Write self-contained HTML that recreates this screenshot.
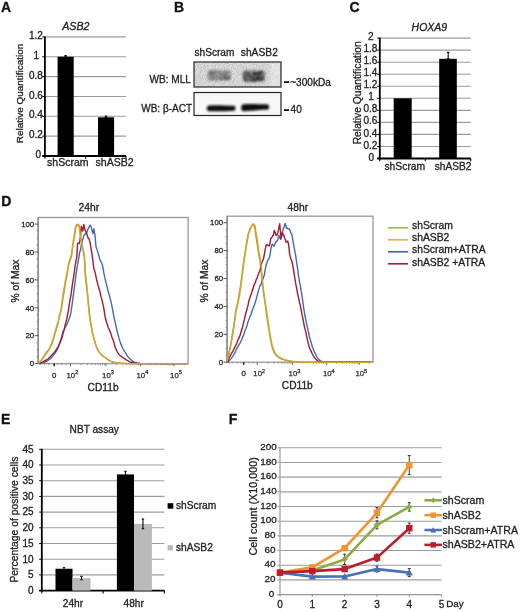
<!DOCTYPE html>
<html><head><meta charset="utf-8"><style>
html,body{margin:0;padding:0;background:#fff;overflow:hidden;}
svg{display:block;filter:blur(0.3px);}
text{font-family:"Liberation Sans",sans-serif;}
</style></head><body>
<svg width="520" height="612" viewBox="0 0 520 612">
<defs>
<filter id="noise" x="0" y="0" width="100%" height="100%">
<feTurbulence type="fractalNoise" baseFrequency="1.1" numOctaves="2" seed="4"/>
<feColorMatrix type="matrix" values="0 0 0 0 0  0 0 0 0 0  0 0 0 0 0  0 0 0 -1.8 1.3" />
</filter>
<filter id="blur1" x="-50%" y="-80%" width="200%" height="260%"><feGaussianBlur stdDeviation="1.2"/></filter>
<filter id="blur2" x="-50%" y="-80%" width="200%" height="260%"><feGaussianBlur stdDeviation="0.95"/></filter>
<filter id="mottle" x="-30%" y="-60%" width="160%" height="220%">
<feTurbulence type="fractalNoise" baseFrequency="0.45" numOctaves="2" seed="11" result="n"/>
<feColorMatrix in="n" type="matrix" values="0 0 0 0 0  0 0 0 0 0  0 0 0 0 0  0 0 0 2.2 -0.35" result="na"/>
<feComposite in="SourceGraphic" in2="na" operator="in" result="m"/>
<feGaussianBlur in="m" stdDeviation="0.9"/>
</filter>
</defs>
<text x="1.00" y="12.30" font-size="14" text-anchor="start" fill="#111" font-weight="bold" stroke="#111" stroke-width="0.3" >A</text>
<text x="174.00" y="12.30" font-size="14" text-anchor="start" fill="#111" font-weight="bold" stroke="#111" stroke-width="0.3" >B</text>
<text x="349.50" y="12.30" font-size="14" text-anchor="start" fill="#111" font-weight="bold" stroke="#111" stroke-width="0.3" >C</text>
<text x="1.30" y="206.00" font-size="14" text-anchor="start" fill="#111" font-weight="bold" stroke="#111" stroke-width="0.3" >D</text>
<text x="1.00" y="423.80" font-size="14" text-anchor="start" fill="#111" font-weight="bold" stroke="#111" stroke-width="0.3" >E</text>
<text x="228.70" y="423.80" font-size="14" text-anchor="start" fill="#111" font-weight="bold" stroke="#111" stroke-width="0.3" >F</text>
<line x1="44.90" y1="136.15" x2="126.00" y2="136.15" stroke="#9c9c9c" stroke-width="1.1" />
<line x1="44.90" y1="116.30" x2="126.00" y2="116.30" stroke="#9c9c9c" stroke-width="1.1" />
<line x1="44.90" y1="96.45" x2="126.00" y2="96.45" stroke="#9c9c9c" stroke-width="1.1" />
<line x1="44.90" y1="76.60" x2="126.00" y2="76.60" stroke="#9c9c9c" stroke-width="1.1" />
<line x1="44.90" y1="56.75" x2="126.00" y2="56.75" stroke="#9c9c9c" stroke-width="1.1" />
<line x1="44.90" y1="36.90" x2="126.00" y2="36.90" stroke="#9c9c9c" stroke-width="1.1" />
<text x="38.30" y="158.10" font-size="10.0" text-anchor="middle" fill="#222" stroke="#222" stroke-width="0.3" >0</text>
<line x1="42.30" y1="156.00" x2="44.90" y2="156.00" stroke="#000" stroke-width="1" />
<text x="42.90" y="138.25" font-size="10.0" text-anchor="end" fill="#222" stroke="#222" stroke-width="0.3" >0.2</text>
<line x1="42.30" y1="136.15" x2="44.90" y2="136.15" stroke="#000" stroke-width="1" />
<text x="42.90" y="118.40" font-size="10.0" text-anchor="end" fill="#222" stroke="#222" stroke-width="0.3" >0.4</text>
<line x1="42.30" y1="116.30" x2="44.90" y2="116.30" stroke="#000" stroke-width="1" />
<text x="42.90" y="98.55" font-size="10.0" text-anchor="end" fill="#222" stroke="#222" stroke-width="0.3" >0.6</text>
<line x1="42.30" y1="96.45" x2="44.90" y2="96.45" stroke="#000" stroke-width="1" />
<text x="42.90" y="78.70" font-size="10.0" text-anchor="end" fill="#222" stroke="#222" stroke-width="0.3" >0.8</text>
<line x1="42.30" y1="76.60" x2="44.90" y2="76.60" stroke="#000" stroke-width="1" />
<text x="36.20" y="58.85" font-size="10.0" text-anchor="middle" fill="#222" stroke="#222" stroke-width="0.3" >1</text>
<line x1="42.30" y1="56.75" x2="44.90" y2="56.75" stroke="#000" stroke-width="1" />
<text x="42.90" y="39.00" font-size="10.0" text-anchor="end" fill="#222" stroke="#222" stroke-width="0.3" >1.2</text>
<line x1="42.30" y1="36.90" x2="44.90" y2="36.90" stroke="#000" stroke-width="1" />
<line x1="44.90" y1="36.40" x2="44.90" y2="156.80" stroke="#000" stroke-width="1.8" />
<line x1="42.30" y1="156.00" x2="126.00" y2="156.00" stroke="#000" stroke-width="1.8" />
<line x1="44.90" y1="156.00" x2="44.90" y2="158.80" stroke="#000" stroke-width="1.1" />
<line x1="85.60" y1="156.00" x2="85.60" y2="158.80" stroke="#000" stroke-width="1.1" />
<line x1="126.00" y1="156.00" x2="126.00" y2="158.80" stroke="#000" stroke-width="1.1" />
<rect x="57.60" y="56.75" width="16.10" height="99.25" fill="#000" />
<rect x="98.00" y="117.29" width="16.10" height="38.71" fill="#000" />
<line x1="65.60" y1="55.56" x2="65.60" y2="56.75" stroke="#000" stroke-width="1.05" />
<line x1="64.40" y1="55.56" x2="66.80" y2="55.56" stroke="#000" stroke-width="1.05" />
<line x1="64.40" y1="56.75" x2="66.80" y2="56.75" stroke="#000" stroke-width="1.05" />
<line x1="106.00" y1="116.10" x2="106.00" y2="117.29" stroke="#000" stroke-width="1.05" />
<line x1="104.80" y1="116.10" x2="107.20" y2="116.10" stroke="#000" stroke-width="1.05" />
<line x1="104.80" y1="117.29" x2="107.20" y2="117.29" stroke="#000" stroke-width="1.05" />
<text x="47.00" y="166.00" font-size="10.55" text-anchor="start" fill="#222" stroke="#222" stroke-width="0.3" >shScram</text>
<text x="95.50" y="166.00" font-size="10.55" text-anchor="start" fill="#222" stroke="#222" stroke-width="0.3" >shASB2</text>
<text x="62.20" y="29.90" font-size="10.7" text-anchor="start" fill="#222" font-style="italic" stroke="#222" stroke-width="0.3" >ASB2</text>
<text x="0.00" y="0.00" font-size="9.95" text-anchor="middle" fill="#222" stroke="#222" stroke-width="0.3" transform="translate(23.2,93.5) rotate(-90)">Relative Quantification</text>
<text x="194.50" y="55.80" font-size="10.1" text-anchor="start" fill="#222" stroke="#222" stroke-width="0.3" >shScram</text>
<text x="240.80" y="55.80" font-size="10.25" text-anchor="start" fill="#222" stroke="#222" stroke-width="0.3" >shASB2</text>
<text x="190.90" y="83.00" font-size="10.1" text-anchor="end" fill="#222" stroke="#222" stroke-width="0.3" >WB: MLL</text>
<text x="192.00" y="111.60" font-size="10.0" text-anchor="end" fill="#222" stroke="#222" stroke-width="0.3" >WB: &#946;-ACT</text>
<rect x="194.00" y="62.00" width="87.00" height="25.00" fill="#e6e6e6" />
<rect x="194" y="62" width="87" height="25" fill="#000" filter="url(#noise)" opacity="0.2"/>
<rect x="270" y="62" width="11" height="25" fill="#fff" opacity="0.35" filter="url(#blur1)"/>
<g filter="url(#mottle)"><rect x="207.5" y="70.5" width="23.5" height="10" rx="4" fill="#6e6e6e"/><rect x="209" y="70" width="8" height="5" rx="2" fill="#505050"/><rect x="219" y="75" width="11" height="5" rx="2" fill="#4a4a4a"/></g>
<g filter="url(#mottle)"><rect x="242.5" y="70.5" width="22.5" height="11.5" rx="4" fill="#3e3e3e"/><rect x="252" y="71" width="12" height="10" rx="3" fill="#1a1a1a"/><rect x="244" y="75" width="9" height="6" rx="2" fill="#2a2a2a"/></g>
<rect x="194" y="62" width="87" height="25" fill="none" stroke="#262626" stroke-width="1.2"/>
<rect x="194.00" y="92.50" width="87.00" height="23.00" fill="#f8f8f8" />
<g filter="url(#blur2)"><path d="M208.5,105.6 C214,104.8 226,105.6 234.5,105.8 C235.8,107.2 235.8,109.8 234.5,110.8 C226,111.2 214,111.6 208.5,111.2 C206.2,110.2 206.2,106.6 208.5,105.6 Z" fill="#111"/><path d="M243,104.2 C250,103.8 260,104.2 268,104.4 C269.5,105.6 269.5,108.4 268,109.6 C260,110.2 250,110.8 243,111.2 C240.5,110.2 240.5,105.2 243,104.2 Z" fill="#0a0a0a"/></g>
<rect x="194" y="92.5" width="87" height="23" fill="none" stroke="#262626" stroke-width="1.2"/>
<rect x="284.00" y="81.20" width="5.10" height="1.80" fill="#111" />
<text x="290.20" y="85.60" font-size="10.1" text-anchor="start" fill="#222" stroke="#222" stroke-width="0.3" >~300kDa</text>
<rect x="284.00" y="109.20" width="5.10" height="1.80" fill="#111" />
<text x="290.60" y="112.90" font-size="10.1" text-anchor="start" fill="#222" stroke="#222" stroke-width="0.3" >40</text>
<line x1="379.80" y1="146.46" x2="470.80" y2="146.46" stroke="#9c9c9c" stroke-width="1.1" />
<line x1="379.80" y1="134.42" x2="470.80" y2="134.42" stroke="#9c9c9c" stroke-width="1.1" />
<line x1="379.80" y1="122.38" x2="470.80" y2="122.38" stroke="#9c9c9c" stroke-width="1.1" />
<line x1="379.80" y1="110.34" x2="470.80" y2="110.34" stroke="#9c9c9c" stroke-width="1.1" />
<line x1="379.80" y1="98.30" x2="470.80" y2="98.30" stroke="#9c9c9c" stroke-width="1.1" />
<line x1="379.80" y1="86.26" x2="470.80" y2="86.26" stroke="#9c9c9c" stroke-width="1.1" />
<line x1="379.80" y1="74.22" x2="470.80" y2="74.22" stroke="#9c9c9c" stroke-width="1.1" />
<line x1="379.80" y1="62.18" x2="470.80" y2="62.18" stroke="#9c9c9c" stroke-width="1.1" />
<line x1="379.80" y1="50.14" x2="470.80" y2="50.14" stroke="#9c9c9c" stroke-width="1.1" />
<line x1="379.80" y1="38.10" x2="470.80" y2="38.10" stroke="#9c9c9c" stroke-width="1.1" />
<text x="371.20" y="160.60" font-size="10.0" text-anchor="middle" fill="#222" stroke="#222" stroke-width="0.3" >0</text>
<line x1="377.20" y1="158.50" x2="379.80" y2="158.50" stroke="#000" stroke-width="1" />
<text x="377.40" y="148.56" font-size="10.0" text-anchor="end" fill="#222" stroke="#222" stroke-width="0.3" >0.2</text>
<line x1="377.20" y1="146.46" x2="379.80" y2="146.46" stroke="#000" stroke-width="1" />
<text x="377.40" y="136.52" font-size="10.0" text-anchor="end" fill="#222" stroke="#222" stroke-width="0.3" >0.4</text>
<line x1="377.20" y1="134.42" x2="379.80" y2="134.42" stroke="#000" stroke-width="1" />
<text x="377.40" y="124.48" font-size="10.0" text-anchor="end" fill="#222" stroke="#222" stroke-width="0.3" >0.6</text>
<line x1="377.20" y1="122.38" x2="379.80" y2="122.38" stroke="#000" stroke-width="1" />
<text x="377.40" y="112.44" font-size="10.0" text-anchor="end" fill="#222" stroke="#222" stroke-width="0.3" >0.8</text>
<line x1="377.20" y1="110.34" x2="379.80" y2="110.34" stroke="#000" stroke-width="1" />
<text x="371.00" y="100.40" font-size="10.0" text-anchor="middle" fill="#222" stroke="#222" stroke-width="0.3" >1</text>
<line x1="377.20" y1="98.30" x2="379.80" y2="98.30" stroke="#000" stroke-width="1" />
<text x="377.40" y="88.36" font-size="10.0" text-anchor="end" fill="#222" stroke="#222" stroke-width="0.3" >1.2</text>
<line x1="377.20" y1="86.26" x2="379.80" y2="86.26" stroke="#000" stroke-width="1" />
<text x="377.40" y="76.32" font-size="10.0" text-anchor="end" fill="#222" stroke="#222" stroke-width="0.3" >1.4</text>
<line x1="377.20" y1="74.22" x2="379.80" y2="74.22" stroke="#000" stroke-width="1" />
<text x="377.40" y="64.28" font-size="10.0" text-anchor="end" fill="#222" stroke="#222" stroke-width="0.3" >1.6</text>
<line x1="377.20" y1="62.18" x2="379.80" y2="62.18" stroke="#000" stroke-width="1" />
<text x="377.40" y="52.24" font-size="10.0" text-anchor="end" fill="#222" stroke="#222" stroke-width="0.3" >1.8</text>
<line x1="377.20" y1="50.14" x2="379.80" y2="50.14" stroke="#000" stroke-width="1" />
<text x="370.90" y="40.20" font-size="10.0" text-anchor="middle" fill="#222" stroke="#222" stroke-width="0.3" >2</text>
<line x1="377.20" y1="38.10" x2="379.80" y2="38.10" stroke="#000" stroke-width="1" />
<line x1="379.80" y1="37.60" x2="379.80" y2="159.30" stroke="#000" stroke-width="1.8" />
<line x1="377.20" y1="158.50" x2="470.80" y2="158.50" stroke="#000" stroke-width="1.8" />
<line x1="379.80" y1="158.50" x2="379.80" y2="161.30" stroke="#000" stroke-width="1.1" />
<line x1="425.30" y1="158.50" x2="425.30" y2="161.30" stroke="#000" stroke-width="1.1" />
<line x1="470.80" y1="158.50" x2="470.80" y2="161.30" stroke="#000" stroke-width="1.1" />
<rect x="393.70" y="98.30" width="18.00" height="60.20" fill="#000" />
<rect x="439.20" y="58.81" width="17.60" height="99.69" fill="#000" />
<line x1="448.20" y1="52.31" x2="448.20" y2="58.81" stroke="#000" stroke-width="1.05" />
<line x1="446.90" y1="52.31" x2="449.50" y2="52.31" stroke="#000" stroke-width="1.05" />
<line x1="446.90" y1="58.81" x2="449.50" y2="58.81" stroke="#000" stroke-width="1.05" />
<text x="384.40" y="169.60" font-size="10.35" text-anchor="start" fill="#222" stroke="#222" stroke-width="0.3" >shScram</text>
<text x="434.80" y="169.60" font-size="10.1" text-anchor="start" fill="#222" stroke="#222" stroke-width="0.3" >shASB2</text>
<text x="411.60" y="31.30" font-size="10.45" text-anchor="start" fill="#222" font-style="italic" stroke="#222" stroke-width="0.3" >HOXA9</text>
<text x="0.00" y="0.00" font-size="10.3" text-anchor="middle" fill="#222" stroke="#222" stroke-width="0.3" transform="translate(360.5,92.8) rotate(-90)">Relative Quantification</text>
<rect x="38.2" y="217.5" width="149.89999999999998" height="146.10000000000002" fill="none" stroke="#999" stroke-width="1.3"/>
<line x1="38.20" y1="217.50" x2="38.20" y2="363.60" stroke="#888" stroke-width="1.3" />
<line x1="34.60" y1="363.60" x2="38.20" y2="363.60" stroke="#555" stroke-width="1" />
<text x="34.20" y="366.30" font-size="7.8" text-anchor="end" fill="#2a2a2a" stroke="#2a2a2a" stroke-width="0.3" >0</text>
<line x1="34.60" y1="335.70" x2="38.20" y2="335.70" stroke="#555" stroke-width="1" />
<text x="34.20" y="338.40" font-size="7.8" text-anchor="end" fill="#2a2a2a" stroke="#2a2a2a" stroke-width="0.3" >20</text>
<line x1="34.60" y1="307.80" x2="38.20" y2="307.80" stroke="#555" stroke-width="1" />
<text x="34.20" y="310.50" font-size="7.8" text-anchor="end" fill="#2a2a2a" stroke="#2a2a2a" stroke-width="0.3" >40</text>
<line x1="34.60" y1="279.90" x2="38.20" y2="279.90" stroke="#555" stroke-width="1" />
<text x="34.20" y="282.60" font-size="7.8" text-anchor="end" fill="#2a2a2a" stroke="#2a2a2a" stroke-width="0.3" >60</text>
<line x1="34.60" y1="252.00" x2="38.20" y2="252.00" stroke="#555" stroke-width="1" />
<text x="34.20" y="254.70" font-size="7.8" text-anchor="end" fill="#2a2a2a" stroke="#2a2a2a" stroke-width="0.3" >80</text>
<line x1="34.60" y1="224.10" x2="38.20" y2="224.10" stroke="#555" stroke-width="1" />
<text x="34.20" y="226.80" font-size="7.8" text-anchor="end" fill="#2a2a2a" stroke="#2a2a2a" stroke-width="0.3" >100</text>
<line x1="36.60" y1="356.62" x2="38.20" y2="356.62" stroke="#888" stroke-width="0.9" />
<line x1="36.60" y1="349.65" x2="38.20" y2="349.65" stroke="#888" stroke-width="0.9" />
<line x1="36.60" y1="342.68" x2="38.20" y2="342.68" stroke="#888" stroke-width="0.9" />
<line x1="36.60" y1="328.73" x2="38.20" y2="328.73" stroke="#888" stroke-width="0.9" />
<line x1="36.60" y1="321.75" x2="38.20" y2="321.75" stroke="#888" stroke-width="0.9" />
<line x1="36.60" y1="314.78" x2="38.20" y2="314.78" stroke="#888" stroke-width="0.9" />
<line x1="36.60" y1="300.83" x2="38.20" y2="300.83" stroke="#888" stroke-width="0.9" />
<line x1="36.60" y1="293.85" x2="38.20" y2="293.85" stroke="#888" stroke-width="0.9" />
<line x1="36.60" y1="286.88" x2="38.20" y2="286.88" stroke="#888" stroke-width="0.9" />
<line x1="36.60" y1="272.93" x2="38.20" y2="272.93" stroke="#888" stroke-width="0.9" />
<line x1="36.60" y1="265.95" x2="38.20" y2="265.95" stroke="#888" stroke-width="0.9" />
<line x1="36.60" y1="258.98" x2="38.20" y2="258.98" stroke="#888" stroke-width="0.9" />
<line x1="36.60" y1="245.03" x2="38.20" y2="245.03" stroke="#888" stroke-width="0.9" />
<line x1="36.60" y1="238.05" x2="38.20" y2="238.05" stroke="#888" stroke-width="0.9" />
<line x1="36.60" y1="231.08" x2="38.20" y2="231.08" stroke="#888" stroke-width="0.9" />
<line x1="54.20" y1="363.60" x2="54.20" y2="366.20" stroke="#222" stroke-width="1.6" />
<text x="54.20" y="377.80" font-size="7.8" text-anchor="middle" fill="#2a2a2a" stroke="#2a2a2a" stroke-width="0.3" >0</text>
<line x1="70.40" y1="363.60" x2="70.40" y2="366.20" stroke="#666" stroke-width="1" />
<text x="66.50" y="377.70" font-size="7.8" fill="#2a2a2a" stroke="#2a2a2a" stroke-width="0.25">10<tspan dy="-3.3" font-size="5.6">2</tspan></text>
<line x1="81.12" y1="363.60" x2="81.12" y2="365.30" stroke="#888" stroke-width="0.8" />
<line x1="87.39" y1="363.60" x2="87.39" y2="365.30" stroke="#888" stroke-width="0.8" />
<line x1="91.83" y1="363.60" x2="91.83" y2="365.30" stroke="#888" stroke-width="0.8" />
<line x1="95.28" y1="363.60" x2="95.28" y2="365.30" stroke="#888" stroke-width="0.8" />
<line x1="98.10" y1="363.60" x2="98.10" y2="365.30" stroke="#888" stroke-width="0.8" />
<line x1="100.49" y1="363.60" x2="100.49" y2="365.30" stroke="#888" stroke-width="0.8" />
<line x1="102.55" y1="363.60" x2="102.55" y2="365.30" stroke="#888" stroke-width="0.8" />
<line x1="104.37" y1="363.60" x2="104.37" y2="365.30" stroke="#888" stroke-width="0.8" />
<line x1="106.00" y1="363.60" x2="106.00" y2="366.20" stroke="#666" stroke-width="1" />
<text x="102.10" y="377.70" font-size="7.8" fill="#2a2a2a" stroke="#2a2a2a" stroke-width="0.25">10<tspan dy="-3.3" font-size="5.6">3</tspan></text>
<line x1="116.36" y1="363.60" x2="116.36" y2="365.30" stroke="#888" stroke-width="0.8" />
<line x1="122.41" y1="363.60" x2="122.41" y2="365.30" stroke="#888" stroke-width="0.8" />
<line x1="126.71" y1="363.60" x2="126.71" y2="365.30" stroke="#888" stroke-width="0.8" />
<line x1="130.04" y1="363.60" x2="130.04" y2="365.30" stroke="#888" stroke-width="0.8" />
<line x1="132.77" y1="363.60" x2="132.77" y2="365.30" stroke="#888" stroke-width="0.8" />
<line x1="135.07" y1="363.60" x2="135.07" y2="365.30" stroke="#888" stroke-width="0.8" />
<line x1="137.07" y1="363.60" x2="137.07" y2="365.30" stroke="#888" stroke-width="0.8" />
<line x1="138.83" y1="363.60" x2="138.83" y2="365.30" stroke="#888" stroke-width="0.8" />
<line x1="140.40" y1="363.60" x2="140.40" y2="366.20" stroke="#666" stroke-width="1" />
<text x="136.50" y="377.70" font-size="7.8" fill="#2a2a2a" stroke="#2a2a2a" stroke-width="0.25">10<tspan dy="-3.3" font-size="5.6">4</tspan></text>
<line x1="150.51" y1="363.60" x2="150.51" y2="365.30" stroke="#888" stroke-width="0.8" />
<line x1="156.43" y1="363.60" x2="156.43" y2="365.30" stroke="#888" stroke-width="0.8" />
<line x1="160.63" y1="363.60" x2="160.63" y2="365.30" stroke="#888" stroke-width="0.8" />
<line x1="163.89" y1="363.60" x2="163.89" y2="365.30" stroke="#888" stroke-width="0.8" />
<line x1="166.55" y1="363.60" x2="166.55" y2="365.30" stroke="#888" stroke-width="0.8" />
<line x1="168.80" y1="363.60" x2="168.80" y2="365.30" stroke="#888" stroke-width="0.8" />
<line x1="170.74" y1="363.60" x2="170.74" y2="365.30" stroke="#888" stroke-width="0.8" />
<line x1="172.46" y1="363.60" x2="172.46" y2="365.30" stroke="#888" stroke-width="0.8" />
<line x1="174.00" y1="363.60" x2="174.00" y2="366.20" stroke="#666" stroke-width="1" />
<text x="170.10" y="377.70" font-size="7.8" fill="#2a2a2a" stroke="#2a2a2a" stroke-width="0.25">10<tspan dy="-3.3" font-size="5.6">5</tspan></text>
<line x1="40.20" y1="363.60" x2="40.20" y2="365.20" stroke="#888" stroke-width="0.8" />
<line x1="44.51" y1="363.60" x2="44.51" y2="365.20" stroke="#888" stroke-width="0.8" />
<line x1="48.83" y1="363.60" x2="48.83" y2="365.20" stroke="#888" stroke-width="0.8" />
<line x1="57.46" y1="363.60" x2="57.46" y2="365.20" stroke="#888" stroke-width="0.8" />
<line x1="61.77" y1="363.60" x2="61.77" y2="365.20" stroke="#888" stroke-width="0.8" />
<line x1="66.09" y1="363.60" x2="66.09" y2="365.20" stroke="#888" stroke-width="0.8" />
<line x1="184.11" y1="363.60" x2="184.11" y2="365.30" stroke="#888" stroke-width="0.8" />
<text x="87.60" y="391.40" font-size="10.2" text-anchor="start" fill="#222" stroke="#222" stroke-width="0.3" >CD11b</text>
<text x="78.60" y="210.70" font-size="10.3" text-anchor="start" fill="#222" stroke="#222" stroke-width="0.3" >24hr</text>
<text x="0.00" y="0.00" font-size="10.3" text-anchor="middle" fill="#222" stroke="#222" stroke-width="0.3" transform="translate(19.2,281) rotate(-90)">% of Max</text>
<path d="M38.9,363.6 L39.8,362.5 L40.7,361.4 L41.6,360.0 L42.5,358.9 L43.4,357.7 L44.3,356.3 L45.0,355.3 L46.1,353.8 L47.0,352.6 L47.9,351.2 L48.8,350.0 L49.7,348.3 L50.6,346.6 L51.5,344.8 L51.8,344.3 L52.4,342.9 L53.3,340.0 L54.2,336.7 L55.1,333.4 L56.0,330.2 L56.4,328.8 L56.9,327.4 L57.8,324.5 L58.7,320.0 L59.6,316.2 L60.5,313.2 L61.4,309.3 L62.3,303.3 L63.2,296.8 L64.1,292.1 L65.0,285.9 L65.9,280.5 L66.2,279.5 L66.8,276.7 L67.7,271.1 L68.6,265.6 L69.4,262.1 L70.4,259.4 L71.3,257.7 L72.2,251.2 L73.0,245.0 L74.0,239.1 L74.6,235.9 L74.9,233.7 L75.8,228.0 L76.1,226.8 L76.7,225.0 L77.2,224.8 L77.6,225.6 L78.5,225.3 L78.8,224.7 L79.4,227.0 L79.9,229.8 L80.3,232.8 L81.1,238.2 L82.1,244.2 L83.0,248.8 L83.4,250.4 L83.9,252.5 L84.6,257.5 L85.4,272.0 L85.7,275.2 L86.6,283.4 L87.4,291.3 L88.4,301.8 L89.3,311.6 L90.2,319.4 L91.1,324.4 L92.0,329.4 L92.9,334.1 L93.8,337.3 L94.1,338.2 L94.7,340.5 L95.6,343.7 L96.5,346.6 L97.4,348.8 L98.3,350.5 L98.9,351.8 L99.2,352.1 L100.1,353.4 L101.0,354.4 L101.9,354.9 L102.8,355.6 L103.7,356.6 L104.6,357.4 L105.4,357.8 L106.4,358.5 L107.3,359.3 L108.2,359.9 L109.1,360.6 L110.0,361.0 L110.9,361.4 L111.8,361.7 L112.7,362.1 L113.6,362.2 L114.5,362.4 L115.4,362.7 L116.3,362.8 L117.2,363.0 L118.1,363.1 L118.4,363.1 L119.0,363.2 L119.9,363.2 L120.8,363.3 L121.7,363.4 L122.6,363.4 L123.5,363.4 L124.4,363.5 L125.3,363.5 L126.2,363.5 L127.1,363.6 L128.0,363.6 L128.9,363.6 L129.8,363.6 L130.4,363.6 L130.7,363.6 L131.6,363.6 L132.5,363.6 L133.4,363.6 L134.3,363.6 L135.2,363.6 L136.1,363.6 L137.0,363.6 L137.9,363.6 L138.8,363.6 L139.7,363.6 L140.6,363.6 L141.5,363.6 L142.4,363.6 L143.3,363.6 L144.2,363.6 L145.1,363.6 L146.0,363.6 L146.9,363.6 L147.8,363.6 L148.7,363.6 L149.6,363.6 L150.5,363.6 L151.4,363.6 L152.3,363.6 L153.2,363.6 L154.1,363.6 L155.0,363.6 L155.9,363.6 L156.8,363.6 L157.7,363.6 L158.6,363.6 L159.5,363.6 L160.4,363.6 L161.3,363.6 L162.2,363.6 L163.1,363.6 L164.0,363.6 L164.9,363.6 L165.8,363.6 L166.7,363.6 L167.6,363.6 L168.5,363.6 L169.4,363.6 L170.3,363.6 L171.2,363.6 L172.1,363.6 L173.0,363.6 L173.9,363.6 L174.8,363.6 L175.7,363.6 L176.6,363.6 L177.5,363.6 L178.4,363.6 L179.3,363.6 L180.2,363.6 L181.1,363.6 L182.0,363.6 L182.9,363.6 L183.8,363.6 L184.7,363.6 L185.6,363.6 L186.5,363.6 L187.4,363.6 L188.3,363.6" fill="none" stroke="#8fb442" stroke-width="1.4" stroke-linejoin="round"/>
<path d="M39.0,363.6 L39.9,363.5 L40.8,363.3 L41.7,363.0 L42.6,362.9 L43.5,362.7 L44.4,362.2 L45.0,362.0 L45.3,361.9 L46.2,361.4 L47.1,361.0 L48.0,360.4 L48.9,359.7 L49.8,358.9 L50.7,358.2 L51.6,357.4 L52.0,357.0 L52.5,356.4 L53.4,355.4 L54.3,354.0 L55.2,352.9 L56.1,351.5 L57.0,349.8 L57.9,348.1 L58.8,345.6 L59.7,343.5 L60.6,341.4 L61.5,337.5 L62.4,333.8 L63.3,331.0 L64.0,330.0 L65.1,327.6 L66.0,326.0 L66.9,324.3 L67.8,322.2 L68.7,320.0 L69.6,317.4 L70.5,314.8 L71.4,309.5 L72.3,302.8 L73.2,296.1 L74.0,290.2 L75.0,282.9 L75.9,275.4 L76.8,269.3 L77.7,264.4 L78.0,262.0 L78.6,259.2 L79.5,253.1 L80.4,250.3 L80.7,249.0 L81.3,244.9 L82.2,240.9 L83.1,238.7 L83.8,235.8 L84.9,234.5 L85.7,233.1 L86.7,232.8 L87.2,231.0 L87.6,229.6 L88.4,228.8 L89.4,226.1 L89.9,225.3 L90.3,225.3 L91.1,226.6 L92.1,230.8 L93.0,233.9 L93.9,228.6 L94.2,230.7 L94.8,234.1 L95.3,238.2 L95.7,243.7 L96.1,247.1 L96.6,248.4 L97.5,251.1 L98.4,254.0 L99.2,257.0 L100.2,260.4 L101.1,262.1 L101.4,262.1 L102.0,263.9 L102.9,267.3 L103.8,272.7 L104.7,277.2 L105.6,280.8 L106.0,282.9 L106.5,284.4 L107.4,288.1 L108.3,292.1 L109.2,294.4 L110.1,298.5 L110.6,300.0 L111.0,301.7 L111.9,305.8 L112.8,310.6 L113.7,315.6 L114.4,319.0 L115.5,323.7 L116.4,327.9 L117.3,331.8 L118.2,335.1 L119.0,338.4 L120.0,341.4 L120.9,343.9 L121.8,345.9 L122.7,348.3 L123.6,349.7 L124.0,350.0 L124.5,351.4 L125.4,352.6 L126.3,354.3 L127.2,355.6 L128.1,356.9 L128.8,357.6 L129.9,358.8 L130.8,359.6 L131.7,360.2 L132.6,361.1 L133.5,361.7 L134.4,362.1 L135.3,362.4 L135.6,362.5 L136.2,362.6 L137.1,362.9 L138.0,363.2 L138.9,363.3 L139.8,363.4 L140.7,363.5 L141.6,363.6 L142.0,363.6 L142.5,363.6 L143.4,363.6 L144.3,363.6 L145.2,363.6 L146.1,363.6 L147.0,363.6 L147.9,363.6 L148.8,363.6 L149.7,363.6 L150.6,363.6 L151.5,363.6 L152.4,363.6 L153.3,363.6 L154.2,363.6 L155.1,363.6 L156.0,363.6 L156.9,363.6 L157.8,363.6 L158.7,363.6 L159.6,363.6 L160.5,363.6 L161.4,363.6 L162.3,363.6 L163.2,363.6 L164.1,363.6 L165.0,363.6 L165.9,363.6 L166.8,363.6 L167.7,363.6 L168.6,363.6 L169.5,363.6 L170.4,363.6 L171.3,363.6 L172.2,363.6 L173.1,363.6 L174.0,363.6 L174.9,363.6 L175.8,363.6 L176.7,363.6 L177.6,363.6 L178.5,363.6 L179.4,363.6 L180.3,363.6 L181.2,363.6 L182.1,363.6 L183.0,363.6 L183.9,363.6 L184.8,363.6 L185.7,363.6 L186.6,363.6 L187.5,363.6 L188.0,363.6" fill="none" stroke="#4668ac" stroke-width="1.4" stroke-linejoin="round"/>
<path d="M39.0,363.6 L39.9,363.2 L40.8,362.9 L41.7,362.5 L42.6,362.0 L43.5,361.6 L44.4,360.9 L45.3,360.4 L46.2,359.9 L47.1,359.8 L48.0,359.0 L48.9,357.9 L49.8,357.1 L50.7,356.2 L51.6,355.2 L52.5,354.4 L53.4,353.6 L54.3,352.4 L55.0,351.5 L56.1,350.0 L57.0,348.4 L57.9,347.2 L58.8,345.4 L59.7,343.0 L60.6,340.8 L61.0,340.0 L61.5,339.4 L62.4,336.1 L63.3,332.4 L64.2,329.5 L64.5,328.0 L65.1,325.3 L66.0,322.2 L66.9,318.3 L67.7,314.0 L68.7,309.1 L69.6,302.1 L70.5,297.7 L71.4,292.0 L72.3,285.0 L73.2,279.4 L74.1,273.7 L75.0,266.8 L75.8,261.8 L76.8,257.1 L77.6,243.4 L78.6,242.9 L79.5,243.6 L80.4,237.0 L80.7,233.6 L81.3,226.2 L82.2,228.3 L82.6,231.0 L83.1,229.3 L83.8,224.5 L84.9,229.4 L85.8,231.6 L86.5,233.0 L87.6,236.4 L88.0,238.1 L88.5,237.9 L89.4,240.1 L90.3,243.5 L91.1,248.8 L92.1,255.2 L93.0,261.5 L93.5,266.0 L93.9,269.1 L94.8,271.3 L95.7,275.1 L96.6,279.7 L97.5,282.8 L98.0,285.2 L98.4,286.3 L99.3,289.7 L100.2,292.5 L101.1,296.9 L102.0,300.1 L102.9,304.1 L103.8,308.2 L104.7,314.4 L105.6,319.0 L106.5,322.0 L107.4,325.1 L108.3,327.5 L109.2,329.5 L110.1,331.6 L111.0,333.9 L111.9,337.2 L112.5,338.4 L112.8,338.9 L113.7,342.0 L114.6,345.1 L115.5,348.1 L116.4,350.0 L117.3,351.9 L118.2,353.1 L119.1,354.6 L120.0,355.6 L120.9,356.2 L121.8,356.8 L122.7,357.5 L123.0,357.7 L123.6,358.2 L124.5,358.6 L125.4,359.2 L126.3,359.8 L127.2,360.4 L128.1,360.8 L129.0,361.5 L129.9,361.9 L130.8,362.2 L131.7,362.1 L132.6,362.4 L133.5,362.6 L134.4,362.9 L135.3,363.0 L136.2,363.2 L137.1,363.4 L138.0,363.5 L138.9,363.5 L139.8,363.6 L140.7,363.6 L141.6,363.6 L142.5,363.6 L143.4,363.6 L144.3,363.6 L145.2,363.6 L146.1,363.6 L147.0,363.6 L147.9,363.6 L148.8,363.6 L149.7,363.6 L150.6,363.6 L151.5,363.6 L152.4,363.6 L153.3,363.6 L154.2,363.6 L155.1,363.6 L156.0,363.6 L156.9,363.6 L157.8,363.6 L158.7,363.6 L159.6,363.6 L160.5,363.6 L161.4,363.6 L162.3,363.6 L163.2,363.6 L164.1,363.6 L165.0,363.6 L165.9,363.6 L166.8,363.6 L167.7,363.6 L168.6,363.6 L169.5,363.6 L170.4,363.6 L171.3,363.6 L172.2,363.6 L173.1,363.6 L174.0,363.6 L174.9,363.6 L175.8,363.6 L176.7,363.6 L177.6,363.6 L178.5,363.6 L179.4,363.6 L180.3,363.6 L181.2,363.6 L182.1,363.6 L183.0,363.6 L183.9,363.6 L184.8,363.6 L185.7,363.6 L186.6,363.6 L187.5,363.6 L188.0,363.6" fill="none" stroke="#9e1c30" stroke-width="1.4" stroke-linejoin="round"/>
<path d="M38.5,363.6 L39.4,362.4 L40.3,361.3 L41.2,360.1 L42.1,358.5 L43.0,357.3 L43.9,355.9 L44.6,355.0 L45.7,353.1 L46.6,352.0 L47.5,350.9 L48.4,349.9 L49.3,348.3 L50.2,346.6 L51.1,344.4 L51.4,344.1 L52.0,342.3 L52.9,339.8 L53.8,336.7 L54.7,333.0 L55.6,329.6 L56.0,328.4 L56.5,326.7 L57.4,323.7 L58.3,321.0 L59.2,316.7 L60.1,313.0 L61.0,308.9 L61.9,303.2 L62.8,295.5 L63.7,290.1 L64.6,285.6 L65.5,279.9 L65.8,279.0 L66.4,275.9 L67.3,270.8 L68.2,266.2 L69.0,261.9 L70.0,258.8 L70.9,256.9 L71.8,252.0 L72.6,245.1 L73.6,238.9 L74.2,235.6 L74.5,233.0 L75.4,227.0 L75.7,226.4 L76.3,224.9 L76.8,224.8 L77.2,224.8 L78.1,224.1 L78.4,224.5 L79.0,226.0 L79.5,229.4 L79.9,232.0 L80.7,238.1 L81.7,243.1 L82.6,248.7 L83.0,250.3 L83.5,252.7 L84.2,257.3 L85.0,271.8 L85.3,276.1 L86.2,284.3 L87.0,291.0 L88.0,301.8 L88.9,311.0 L89.8,319.1 L90.7,324.5 L91.6,328.7 L92.5,333.8 L93.4,337.2 L93.7,337.9 L94.3,340.5 L95.2,343.4 L96.1,346.3 L97.0,348.5 L97.9,350.4 L98.5,351.4 L98.8,351.4 L99.7,352.7 L100.6,353.9 L101.5,355.0 L102.4,356.0 L103.3,356.3 L104.2,357.0 L105.0,357.5 L106.0,358.2 L106.9,358.7 L107.8,359.3 L108.7,360.0 L109.6,360.5 L110.5,361.1 L111.4,361.4 L112.3,361.8 L113.2,362.0 L114.1,362.2 L115.0,362.4 L115.9,362.6 L116.8,362.7 L117.7,362.8 L118.0,362.8 L118.6,362.9 L119.5,363.0 L120.4,363.1 L121.3,363.2 L122.2,363.2 L123.1,363.3 L124.0,363.3 L124.9,363.4 L125.8,363.5 L126.7,363.5 L127.6,363.6 L128.5,363.6 L129.4,363.6 L130.0,363.6 L130.3,363.6 L131.2,363.6 L132.1,363.6 L133.0,363.6 L133.9,363.6 L134.8,363.6 L135.7,363.6 L136.6,363.6 L137.5,363.6 L138.4,363.6 L139.3,363.6 L140.2,363.6 L141.1,363.6 L142.0,363.6 L142.9,363.6 L143.8,363.6 L144.7,363.6 L145.6,363.6 L146.5,363.6 L147.4,363.6 L148.3,363.6 L149.2,363.6 L150.1,363.6 L151.0,363.6 L151.9,363.6 L152.8,363.6 L153.7,363.6 L154.6,363.6 L155.5,363.6 L156.4,363.6 L157.3,363.6 L158.2,363.6 L159.1,363.6 L160.0,363.6 L160.9,363.6 L161.8,363.6 L162.7,363.6 L163.6,363.6 L164.5,363.6 L165.4,363.6 L166.3,363.6 L167.2,363.6 L168.1,363.6 L169.0,363.6 L169.9,363.6 L170.8,363.6 L171.7,363.6 L172.6,363.6 L173.5,363.6 L174.4,363.6 L175.3,363.6 L176.2,363.6 L177.1,363.6 L178.0,363.6 L178.9,363.6 L179.8,363.6 L180.7,363.6 L181.6,363.6 L182.5,363.6 L183.4,363.6 L184.3,363.6 L185.2,363.6 L186.1,363.6 L187.0,363.6 L187.9,363.6" fill="none" stroke="#d8a134" stroke-width="1.4" stroke-linejoin="round"/>
<rect x="227.1" y="216.2" width="145.9" height="146.0" fill="none" stroke="#999" stroke-width="1.3"/>
<line x1="227.10" y1="216.20" x2="227.10" y2="362.20" stroke="#888" stroke-width="1.3" />
<line x1="223.50" y1="362.20" x2="227.10" y2="362.20" stroke="#555" stroke-width="1" />
<text x="223.10" y="364.90" font-size="7.8" text-anchor="end" fill="#2a2a2a" stroke="#2a2a2a" stroke-width="0.3" >0</text>
<line x1="223.50" y1="334.30" x2="227.10" y2="334.30" stroke="#555" stroke-width="1" />
<text x="223.10" y="337.00" font-size="7.8" text-anchor="end" fill="#2a2a2a" stroke="#2a2a2a" stroke-width="0.3" >20</text>
<line x1="223.50" y1="306.40" x2="227.10" y2="306.40" stroke="#555" stroke-width="1" />
<text x="223.10" y="309.10" font-size="7.8" text-anchor="end" fill="#2a2a2a" stroke="#2a2a2a" stroke-width="0.3" >40</text>
<line x1="223.50" y1="278.50" x2="227.10" y2="278.50" stroke="#555" stroke-width="1" />
<text x="223.10" y="281.20" font-size="7.8" text-anchor="end" fill="#2a2a2a" stroke="#2a2a2a" stroke-width="0.3" >60</text>
<line x1="223.50" y1="250.60" x2="227.10" y2="250.60" stroke="#555" stroke-width="1" />
<text x="223.10" y="253.30" font-size="7.8" text-anchor="end" fill="#2a2a2a" stroke="#2a2a2a" stroke-width="0.3" >80</text>
<line x1="223.50" y1="222.70" x2="227.10" y2="222.70" stroke="#555" stroke-width="1" />
<text x="223.10" y="225.40" font-size="7.8" text-anchor="end" fill="#2a2a2a" stroke="#2a2a2a" stroke-width="0.3" >100</text>
<line x1="225.50" y1="355.22" x2="227.10" y2="355.22" stroke="#888" stroke-width="0.9" />
<line x1="225.50" y1="348.25" x2="227.10" y2="348.25" stroke="#888" stroke-width="0.9" />
<line x1="225.50" y1="341.27" x2="227.10" y2="341.27" stroke="#888" stroke-width="0.9" />
<line x1="225.50" y1="327.32" x2="227.10" y2="327.32" stroke="#888" stroke-width="0.9" />
<line x1="225.50" y1="320.35" x2="227.10" y2="320.35" stroke="#888" stroke-width="0.9" />
<line x1="225.50" y1="313.38" x2="227.10" y2="313.38" stroke="#888" stroke-width="0.9" />
<line x1="225.50" y1="299.43" x2="227.10" y2="299.43" stroke="#888" stroke-width="0.9" />
<line x1="225.50" y1="292.45" x2="227.10" y2="292.45" stroke="#888" stroke-width="0.9" />
<line x1="225.50" y1="285.48" x2="227.10" y2="285.48" stroke="#888" stroke-width="0.9" />
<line x1="225.50" y1="271.52" x2="227.10" y2="271.52" stroke="#888" stroke-width="0.9" />
<line x1="225.50" y1="264.55" x2="227.10" y2="264.55" stroke="#888" stroke-width="0.9" />
<line x1="225.50" y1="257.57" x2="227.10" y2="257.57" stroke="#888" stroke-width="0.9" />
<line x1="225.50" y1="243.62" x2="227.10" y2="243.62" stroke="#888" stroke-width="0.9" />
<line x1="225.50" y1="236.65" x2="227.10" y2="236.65" stroke="#888" stroke-width="0.9" />
<line x1="225.50" y1="229.67" x2="227.10" y2="229.67" stroke="#888" stroke-width="0.9" />
<line x1="243.70" y1="362.20" x2="243.70" y2="364.80" stroke="#222" stroke-width="1.6" />
<text x="243.70" y="376.40" font-size="7.8" text-anchor="middle" fill="#2a2a2a" stroke="#2a2a2a" stroke-width="0.3" >0</text>
<line x1="257.20" y1="362.20" x2="257.20" y2="364.80" stroke="#666" stroke-width="1" />
<text x="253.30" y="376.30" font-size="7.8" fill="#2a2a2a" stroke="#2a2a2a" stroke-width="0.25">10<tspan dy="-3.3" font-size="5.6">2</tspan></text>
<line x1="267.83" y1="362.20" x2="267.83" y2="363.90" stroke="#888" stroke-width="0.8" />
<line x1="274.04" y1="362.20" x2="274.04" y2="363.90" stroke="#888" stroke-width="0.8" />
<line x1="278.45" y1="362.20" x2="278.45" y2="363.90" stroke="#888" stroke-width="0.8" />
<line x1="281.87" y1="362.20" x2="281.87" y2="363.90" stroke="#888" stroke-width="0.8" />
<line x1="284.67" y1="362.20" x2="284.67" y2="363.90" stroke="#888" stroke-width="0.8" />
<line x1="287.03" y1="362.20" x2="287.03" y2="363.90" stroke="#888" stroke-width="0.8" />
<line x1="289.08" y1="362.20" x2="289.08" y2="363.90" stroke="#888" stroke-width="0.8" />
<line x1="290.88" y1="362.20" x2="290.88" y2="363.90" stroke="#888" stroke-width="0.8" />
<line x1="292.50" y1="362.20" x2="292.50" y2="364.80" stroke="#666" stroke-width="1" />
<text x="288.60" y="376.30" font-size="7.8" fill="#2a2a2a" stroke="#2a2a2a" stroke-width="0.25">10<tspan dy="-3.3" font-size="5.6">3</tspan></text>
<line x1="302.83" y1="362.20" x2="302.83" y2="363.90" stroke="#888" stroke-width="0.8" />
<line x1="308.87" y1="362.20" x2="308.87" y2="363.90" stroke="#888" stroke-width="0.8" />
<line x1="313.15" y1="362.20" x2="313.15" y2="363.90" stroke="#888" stroke-width="0.8" />
<line x1="316.47" y1="362.20" x2="316.47" y2="363.90" stroke="#888" stroke-width="0.8" />
<line x1="319.19" y1="362.20" x2="319.19" y2="363.90" stroke="#888" stroke-width="0.8" />
<line x1="321.49" y1="362.20" x2="321.49" y2="363.90" stroke="#888" stroke-width="0.8" />
<line x1="323.48" y1="362.20" x2="323.48" y2="363.90" stroke="#888" stroke-width="0.8" />
<line x1="325.23" y1="362.20" x2="325.23" y2="363.90" stroke="#888" stroke-width="0.8" />
<line x1="326.80" y1="362.20" x2="326.80" y2="364.80" stroke="#666" stroke-width="1" />
<text x="322.90" y="376.30" font-size="7.8" fill="#2a2a2a" stroke="#2a2a2a" stroke-width="0.25">10<tspan dy="-3.3" font-size="5.6">4</tspan></text>
<line x1="336.58" y1="362.20" x2="336.58" y2="363.90" stroke="#888" stroke-width="0.8" />
<line x1="342.31" y1="362.20" x2="342.31" y2="363.90" stroke="#888" stroke-width="0.8" />
<line x1="346.37" y1="362.20" x2="346.37" y2="363.90" stroke="#888" stroke-width="0.8" />
<line x1="349.52" y1="362.20" x2="349.52" y2="363.90" stroke="#888" stroke-width="0.8" />
<line x1="352.09" y1="362.20" x2="352.09" y2="363.90" stroke="#888" stroke-width="0.8" />
<line x1="354.27" y1="362.20" x2="354.27" y2="363.90" stroke="#888" stroke-width="0.8" />
<line x1="356.15" y1="362.20" x2="356.15" y2="363.90" stroke="#888" stroke-width="0.8" />
<line x1="357.81" y1="362.20" x2="357.81" y2="363.90" stroke="#888" stroke-width="0.8" />
<line x1="359.30" y1="362.20" x2="359.30" y2="364.80" stroke="#666" stroke-width="1" />
<text x="355.40" y="376.30" font-size="7.8" fill="#2a2a2a" stroke="#2a2a2a" stroke-width="0.25">10<tspan dy="-3.3" font-size="5.6">5</tspan></text>
<line x1="229.10" y1="362.20" x2="229.10" y2="363.80" stroke="#888" stroke-width="0.8" />
<line x1="233.11" y1="362.20" x2="233.11" y2="363.80" stroke="#888" stroke-width="0.8" />
<line x1="237.13" y1="362.20" x2="237.13" y2="363.80" stroke="#888" stroke-width="0.8" />
<line x1="241.14" y1="362.20" x2="241.14" y2="363.80" stroke="#888" stroke-width="0.8" />
<line x1="249.17" y1="362.20" x2="249.17" y2="363.80" stroke="#888" stroke-width="0.8" />
<line x1="253.19" y1="362.20" x2="253.19" y2="363.80" stroke="#888" stroke-width="0.8" />
<line x1="369.08" y1="362.20" x2="369.08" y2="363.90" stroke="#888" stroke-width="0.8" />
<text x="281.80" y="388.70" font-size="10.2" text-anchor="start" fill="#222" stroke="#222" stroke-width="0.3" >CD11b</text>
<text x="287.60" y="210.70" font-size="10.3" text-anchor="start" fill="#222" stroke="#222" stroke-width="0.3" >48hr</text>
<text x="0.00" y="0.00" font-size="10.3" text-anchor="middle" fill="#222" stroke="#222" stroke-width="0.3" transform="translate(207.8,281) rotate(-90)">% of Max</text>
<path d="M226.7,361.9 L227.6,358.3 L228.5,354.5 L229.4,350.6 L229.9,348.2 L230.3,346.2 L231.2,341.0 L232.1,335.5 L233.0,330.3 L233.9,324.7 L234.8,317.7 L235.7,310.6 L236.0,309.3 L236.6,307.1 L237.5,303.6 L238.0,300.8 L238.4,298.4 L239.3,293.2 L240.2,287.5 L241.1,281.1 L242.0,273.7 L242.9,267.0 L243.5,262.4 L243.8,260.0 L244.7,254.4 L245.6,249.3 L246.5,243.2 L247.4,237.7 L248.3,233.4 L249.2,230.9 L250.1,228.2 L251.0,227.3 L251.9,225.7 L252.8,224.3 L253.1,224.2 L253.7,224.1 L254.5,225.7 L255.5,233.2 L256.4,239.5 L257.3,245.2 L258.2,251.5 L259.1,256.8 L260.0,260.7 L260.9,269.6 L261.8,279.0 L262.7,287.0 L263.5,293.4 L264.5,299.7 L265.4,306.2 L265.8,309.4 L266.3,313.2 L267.2,318.9 L268.1,325.3 L268.7,328.9 L269.0,330.4 L269.9,335.7 L270.8,341.3 L271.7,345.6 L272.5,348.2 L273.5,351.1 L274.4,352.9 L275.3,354.5 L276.2,355.5 L276.5,355.8 L277.1,356.5 L278.0,357.0 L278.9,357.6 L279.8,358.2 L280.7,358.7 L281.6,359.0 L282.5,359.3 L283.4,359.7 L284.1,359.9 L285.2,360.2 L286.1,360.5 L287.0,360.7 L287.9,360.9 L288.8,361.1 L289.7,361.4 L290.6,361.6 L291.5,361.7 L292.4,361.8 L293.3,361.9 L294.2,361.9 L295.1,361.9 L296.0,362.0 L296.9,362.0 L297.8,362.1 L298.7,362.1 L299.6,362.1 L300.5,362.2 L301.4,362.2 L302.3,362.2 L303.2,362.2 L304.1,362.2 L304.5,362.2 L305.0,362.2 L305.9,362.2 L306.8,362.2 L307.7,362.2 L308.6,362.2 L309.5,362.2 L310.4,362.2 L311.3,362.2 L312.2,362.2 L313.1,362.2 L314.0,362.2 L314.9,362.2 L315.8,362.2 L316.7,362.2 L317.6,362.2 L318.5,362.2 L319.4,362.2 L320.3,362.2 L321.2,362.2 L322.1,362.2 L323.0,362.2 L323.9,362.2 L324.8,362.2 L325.7,362.2 L326.6,362.2 L327.5,362.2 L328.4,362.2 L329.3,362.2 L330.2,362.2 L331.1,362.2 L332.0,362.2 L332.9,362.2 L333.8,362.2 L334.7,362.2 L335.6,362.2 L336.5,362.2 L337.4,362.2 L338.3,362.2 L339.2,362.2 L340.1,362.2 L341.0,362.2 L341.9,362.2 L342.8,362.2 L343.7,362.2 L344.6,362.2 L345.5,362.2 L346.4,362.2 L347.3,362.2 L348.2,362.2 L349.1,362.2 L350.0,362.2 L350.9,362.2 L351.8,362.2 L352.7,362.2 L353.6,362.2 L354.5,362.2 L355.4,362.2 L356.3,362.2 L357.2,362.2 L358.1,362.2 L359.0,362.2 L359.9,362.2 L360.8,362.2 L361.7,362.2 L362.6,362.2 L363.5,362.2 L364.4,362.2 L365.3,362.2 L366.2,362.2 L367.1,362.2 L368.0,362.2 L368.9,362.2 L369.8,362.2 L370.7,362.2 L371.5,362.2" fill="none" stroke="#8fb442" stroke-width="1.4" stroke-linejoin="round"/>
<path d="M227.5,362.2 L228.4,361.6 L229.3,360.4 L229.8,360.0 L230.2,359.6 L231.1,358.6 L232.0,357.3 L232.9,356.1 L233.8,354.5 L234.7,352.9 L235.6,351.3 L236.5,349.3 L237.4,347.5 L238.3,346.2 L239.2,344.3 L240.1,342.8 L241.0,341.2 L241.9,339.3 L242.8,336.7 L243.7,334.8 L244.6,332.0 L245.5,329.3 L246.0,328.5 L246.4,327.6 L247.3,324.3 L248.2,321.2 L249.1,319.4 L250.0,316.6 L250.9,314.6 L251.8,312.1 L252.7,309.3 L253.6,306.9 L254.5,304.8 L255.4,301.9 L255.8,300.6 L256.3,298.9 L257.2,295.3 L258.1,291.7 L259.0,289.0 L259.6,287.0 L259.9,285.7 L260.8,285.0 L261.7,282.5 L262.6,279.9 L263.5,277.5 L264.4,274.7 L265.3,268.9 L266.2,264.8 L267.1,262.2 L268.0,259.8 L268.9,258.5 L269.5,257.4 L269.8,256.1 L270.7,250.1 L271.0,248.6 L271.6,245.1 L272.5,244.1 L273.4,245.8 L274.2,246.0 L275.2,243.3 L275.7,242.0 L276.1,241.8 L277.0,241.1 L277.9,239.3 L278.8,235.2 L279.7,237.7 L280.5,239.3 L281.5,235.9 L282.4,232.0 L283.3,228.9 L284.2,227.0 L285.1,223.5 L286.0,225.9 L286.5,228.0 L286.9,227.7 L287.6,228.8 L288.7,228.8 L289.6,229.8 L290.5,231.6 L291.1,233.6 L291.4,233.5 L292.3,236.6 L292.6,239.0 L293.2,242.2 L294.1,247.1 L295.0,252.2 L295.7,255.7 L296.8,263.5 L297.7,269.3 L298.0,271.7 L298.6,276.0 L299.5,281.8 L300.4,285.9 L301.0,290.1 L301.3,291.9 L302.2,297.2 L303.1,303.7 L303.8,309.0 L304.9,315.0 L305.8,319.8 L306.7,324.3 L307.6,328.3 L308.5,332.1 L309.4,336.8 L310.3,339.6 L311.2,342.7 L312.1,346.2 L312.5,347.6 L313.0,348.2 L313.9,350.7 L314.8,352.9 L315.7,354.3 L316.6,356.3 L317.3,357.4 L318.4,358.9 L319.3,359.7 L320.2,360.5 L321.1,361.1 L322.0,361.5 L322.9,361.7 L323.8,361.8 L324.7,362.0 L325.6,362.1 L326.5,362.2 L327.4,362.2 L328.0,362.2 L328.3,362.2 L329.2,362.2 L330.1,362.2 L331.0,362.2 L331.9,362.2 L332.8,362.2 L333.7,362.2 L334.6,362.2 L335.5,362.2 L336.4,362.2 L337.3,362.2 L338.2,362.2 L339.1,362.2 L340.0,362.2 L340.9,362.2 L341.8,362.2 L342.7,362.2 L343.6,362.2 L344.5,362.2 L345.4,362.2 L346.3,362.2 L347.2,362.2 L348.1,362.2 L349.0,362.2 L349.9,362.2 L350.8,362.2 L351.7,362.2 L352.6,362.2 L353.5,362.2 L354.4,362.2 L355.3,362.2 L356.2,362.2 L357.1,362.2 L358.0,362.2 L358.9,362.2 L359.8,362.2 L360.7,362.2 L361.6,362.2 L362.5,362.2 L363.4,362.2 L364.3,362.2 L365.2,362.2 L366.1,362.2 L367.0,362.2 L367.9,362.2 L368.8,362.2 L369.7,362.2 L370.6,362.2 L371.5,362.2 L372.0,362.2" fill="none" stroke="#4668ac" stroke-width="1.4" stroke-linejoin="round"/>
<path d="M227.5,362.2 L228.4,360.0 L228.8,359.0 L229.3,357.8 L230.2,355.9 L231.1,354.2 L232.0,352.7 L232.9,351.4 L233.8,349.4 L234.6,347.7 L235.6,345.6 L236.5,343.7 L237.4,341.6 L238.3,339.1 L239.2,337.1 L240.1,335.2 L241.0,332.0 L241.9,329.3 L242.3,328.3 L242.8,325.8 L243.7,322.1 L244.6,318.7 L245.5,314.5 L246.4,311.2 L247.3,308.0 L248.2,304.4 L249.1,299.7 L250.0,297.8 L250.9,295.0 L251.8,292.5 L252.7,289.0 L253.0,288.8 L253.6,286.5 L254.5,283.9 L255.4,282.5 L255.8,281.0 L256.3,279.4 L257.2,277.9 L258.1,274.9 L259.0,272.4 L259.9,270.2 L260.6,268.0 L261.7,263.1 L262.5,260.9 L263.5,259.2 L263.8,257.1 L264.4,254.0 L265.3,248.9 L266.2,244.9 L267.1,244.7 L268.0,245.7 L268.9,245.3 L269.2,246.0 L269.8,244.3 L270.7,238.8 L271.6,237.7 L272.5,236.4 L273.0,235.4 L273.4,235.4 L274.3,230.5 L275.2,232.4 L276.1,235.6 L277.0,235.0 L277.9,232.7 L278.8,228.2 L279.7,223.7 L280.6,233.6 L281.1,238.8 L281.5,237.0 L282.4,232.5 L283.3,234.7 L284.2,236.0 L284.5,237.8 L285.1,239.0 L286.0,242.0 L286.8,242.0 L287.8,241.1 L288.7,245.2 L289.2,250.2 L289.6,254.1 L290.3,257.2 L291.4,260.0 L292.3,263.0 L293.2,267.8 L294.1,273.7 L295.0,279.1 L295.9,284.4 L296.8,289.0 L297.7,294.1 L298.0,295.1 L298.6,298.0 L299.5,302.3 L300.4,306.1 L301.0,309.1 L301.3,310.8 L302.2,315.5 L303.1,319.5 L304.0,324.5 L304.8,328.4 L305.8,331.9 L306.7,336.6 L307.6,340.5 L308.5,344.2 L309.4,347.8 L310.3,349.6 L311.2,351.4 L312.1,353.5 L313.0,355.3 L313.9,356.6 L314.4,357.3 L314.8,357.9 L315.7,359.0 L316.6,359.8 L317.5,360.7 L318.4,361.3 L319.0,361.5 L319.3,361.5 L320.2,361.7 L321.1,361.9 L322.0,362.0 L322.9,362.1 L323.8,362.2 L324.7,362.2 L325.0,362.2 L325.6,362.2 L326.5,362.2 L327.4,362.2 L328.3,362.2 L329.2,362.2 L330.1,362.2 L331.0,362.2 L331.9,362.2 L332.8,362.2 L333.7,362.2 L334.6,362.2 L335.5,362.2 L336.4,362.2 L337.3,362.2 L338.2,362.2 L339.1,362.2 L340.0,362.2 L340.9,362.2 L341.8,362.2 L342.7,362.2 L343.6,362.2 L344.5,362.2 L345.4,362.2 L346.3,362.2 L347.2,362.2 L348.1,362.2 L349.0,362.2 L349.9,362.2 L350.8,362.2 L351.7,362.2 L352.6,362.2 L353.5,362.2 L354.4,362.2 L355.3,362.2 L356.2,362.2 L357.1,362.2 L358.0,362.2 L358.9,362.2 L359.8,362.2 L360.7,362.2 L361.6,362.2 L362.5,362.2 L363.4,362.2 L364.3,362.2 L365.2,362.2 L366.1,362.2 L367.0,362.2 L367.9,362.2 L368.8,362.2 L369.7,362.2 L370.6,362.2 L371.5,362.2 L372.0,362.2" fill="none" stroke="#9e1c30" stroke-width="1.4" stroke-linejoin="round"/>
<path d="M227.2,361.5 L228.1,357.8 L229.0,354.0 L229.9,349.9 L230.4,347.6 L230.8,345.4 L231.7,340.4 L232.6,335.5 L233.5,330.2 L234.4,324.3 L235.3,317.4 L236.2,310.8 L236.5,309.1 L237.1,307.1 L238.0,302.8 L238.5,300.5 L238.9,298.6 L239.8,294.0 L240.7,287.6 L241.6,280.8 L242.5,273.9 L243.4,266.7 L244.0,261.8 L244.3,259.7 L245.2,253.9 L246.1,248.0 L247.0,243.0 L247.9,238.1 L248.8,232.6 L249.7,231.3 L250.6,228.7 L251.5,226.6 L252.4,224.5 L253.3,225.0 L253.6,224.0 L254.2,225.2 L255.0,225.8 L256.0,233.0 L256.9,237.6 L257.8,243.9 L258.7,251.1 L259.6,255.5 L260.5,260.2 L261.4,268.4 L262.3,278.8 L263.2,286.8 L264.0,293.1 L265.0,300.8 L265.9,306.1 L266.3,308.9 L266.8,312.0 L267.7,318.6 L268.6,324.4 L269.2,328.4 L269.5,330.7 L270.4,335.9 L271.3,340.8 L272.2,345.6 L273.0,347.8 L274.0,350.4 L274.9,352.3 L275.8,353.8 L276.7,355.2 L277.0,355.4 L277.6,356.1 L278.5,356.7 L279.4,357.1 L280.3,357.7 L281.2,358.2 L282.1,358.7 L283.0,359.1 L283.9,359.3 L284.6,359.5 L285.7,360.0 L286.6,360.1 L287.5,360.4 L288.4,360.7 L289.3,360.8 L290.2,360.9 L291.1,361.0 L292.0,361.3 L292.9,361.5 L293.8,361.6 L294.7,361.6 L295.6,361.7 L296.5,361.8 L297.4,361.8 L298.3,361.9 L299.2,362.0 L300.1,362.0 L301.0,362.1 L301.9,362.1 L302.8,362.1 L303.7,362.2 L304.6,362.2 L305.0,362.2 L305.5,362.2 L306.4,362.2 L307.3,362.2 L308.2,362.2 L309.1,362.2 L310.0,362.2 L310.9,362.2 L311.8,362.2 L312.7,362.2 L313.6,362.2 L314.5,362.2 L315.4,362.2 L316.3,362.2 L317.2,362.2 L318.1,362.2 L319.0,362.2 L319.9,362.2 L320.8,362.2 L321.7,362.2 L322.6,362.2 L323.5,362.2 L324.4,362.2 L325.3,362.2 L326.2,362.2 L327.1,362.2 L328.0,362.2 L328.9,362.2 L329.8,362.2 L330.7,362.2 L331.6,362.2 L332.5,362.2 L333.4,362.2 L334.3,362.2 L335.2,362.2 L336.1,362.2 L337.0,362.2 L337.9,362.2 L338.8,362.2 L339.7,362.2 L340.6,362.2 L341.5,362.2 L342.4,362.2 L343.3,362.2 L344.2,362.2 L345.1,362.2 L346.0,362.2 L346.9,362.2 L347.8,362.2 L348.7,362.2 L349.6,362.2 L350.5,362.2 L351.4,362.2 L352.3,362.2 L353.2,362.2 L354.1,362.2 L355.0,362.2 L355.9,362.2 L356.8,362.2 L357.7,362.2 L358.6,362.2 L359.5,362.2 L360.4,362.2 L361.3,362.2 L362.2,362.2 L363.1,362.2 L364.0,362.2 L364.9,362.2 L365.8,362.2 L366.7,362.2 L367.6,362.2 L368.5,362.2 L369.4,362.2 L370.3,362.2 L371.2,362.2 L372.0,362.2" fill="none" stroke="#d8a134" stroke-width="1.4" stroke-linejoin="round"/>
<line x1="388.00" y1="227.80" x2="408.00" y2="227.80" stroke="#9cb848" stroke-width="1.6" />
<text x="412.00" y="229.20" font-size="10.35" text-anchor="start" fill="#222" stroke="#222" stroke-width="0.3" >shScram</text>
<line x1="388.00" y1="239.80" x2="408.00" y2="239.80" stroke="#e8ae44" stroke-width="1.6" />
<text x="412.00" y="241.30" font-size="10.35" text-anchor="start" fill="#222" stroke="#222" stroke-width="0.3" >shASB2</text>
<line x1="388.00" y1="251.80" x2="408.00" y2="251.80" stroke="#3b66b8" stroke-width="1.6" />
<text x="412.00" y="253.40" font-size="10.35" text-anchor="start" fill="#222" stroke="#222" stroke-width="0.3" >shScram+ATRA</text>
<line x1="388.00" y1="263.80" x2="408.00" y2="263.80" stroke="#a81c2c" stroke-width="1.6" />
<text x="412.00" y="265.50" font-size="10.35" text-anchor="start" fill="#222" stroke="#222" stroke-width="0.3" >shASB2 +ATRA</text>
<line x1="41.80" y1="574.90" x2="164.40" y2="574.90" stroke="#9c9c9c" stroke-width="1.1" />
<line x1="41.80" y1="559.20" x2="164.40" y2="559.20" stroke="#9c9c9c" stroke-width="1.1" />
<line x1="41.80" y1="543.50" x2="164.40" y2="543.50" stroke="#9c9c9c" stroke-width="1.1" />
<line x1="41.80" y1="527.80" x2="164.40" y2="527.80" stroke="#9c9c9c" stroke-width="1.1" />
<line x1="41.80" y1="512.10" x2="164.40" y2="512.10" stroke="#9c9c9c" stroke-width="1.1" />
<line x1="41.80" y1="496.40" x2="164.40" y2="496.40" stroke="#9c9c9c" stroke-width="1.1" />
<line x1="41.80" y1="480.70" x2="164.40" y2="480.70" stroke="#9c9c9c" stroke-width="1.1" />
<line x1="41.80" y1="465.00" x2="164.40" y2="465.00" stroke="#9c9c9c" stroke-width="1.1" />
<line x1="41.80" y1="449.30" x2="164.40" y2="449.30" stroke="#9c9c9c" stroke-width="1.1" />
<text x="33.60" y="593.90" font-size="10.0" text-anchor="end" fill="#222" stroke="#222" stroke-width="0.3" >0</text>
<line x1="39.20" y1="590.60" x2="41.80" y2="590.60" stroke="#000" stroke-width="1" />
<text x="33.60" y="578.20" font-size="10.0" text-anchor="end" fill="#222" stroke="#222" stroke-width="0.3" >5</text>
<line x1="39.20" y1="574.90" x2="41.80" y2="574.90" stroke="#000" stroke-width="1" />
<text x="33.60" y="562.50" font-size="10.0" text-anchor="end" fill="#222" stroke="#222" stroke-width="0.3" >10</text>
<line x1="39.20" y1="559.20" x2="41.80" y2="559.20" stroke="#000" stroke-width="1" />
<text x="33.60" y="546.80" font-size="10.0" text-anchor="end" fill="#222" stroke="#222" stroke-width="0.3" >15</text>
<line x1="39.20" y1="543.50" x2="41.80" y2="543.50" stroke="#000" stroke-width="1" />
<text x="33.60" y="531.10" font-size="10.0" text-anchor="end" fill="#222" stroke="#222" stroke-width="0.3" >20</text>
<line x1="39.20" y1="527.80" x2="41.80" y2="527.80" stroke="#000" stroke-width="1" />
<text x="33.60" y="515.40" font-size="10.0" text-anchor="end" fill="#222" stroke="#222" stroke-width="0.3" >25</text>
<line x1="39.20" y1="512.10" x2="41.80" y2="512.10" stroke="#000" stroke-width="1" />
<text x="33.60" y="499.70" font-size="10.0" text-anchor="end" fill="#222" stroke="#222" stroke-width="0.3" >30</text>
<line x1="39.20" y1="496.40" x2="41.80" y2="496.40" stroke="#000" stroke-width="1" />
<text x="33.60" y="484.00" font-size="10.0" text-anchor="end" fill="#222" stroke="#222" stroke-width="0.3" >35</text>
<line x1="39.20" y1="480.70" x2="41.80" y2="480.70" stroke="#000" stroke-width="1" />
<text x="33.60" y="468.30" font-size="10.0" text-anchor="end" fill="#222" stroke="#222" stroke-width="0.3" >40</text>
<line x1="39.20" y1="465.00" x2="41.80" y2="465.00" stroke="#000" stroke-width="1" />
<text x="33.60" y="452.60" font-size="10.0" text-anchor="end" fill="#222" stroke="#222" stroke-width="0.3" >45</text>
<line x1="39.20" y1="449.30" x2="41.80" y2="449.30" stroke="#000" stroke-width="1" />
<line x1="41.80" y1="448.80" x2="41.80" y2="591.40" stroke="#000" stroke-width="1.8" />
<line x1="39.20" y1="590.60" x2="164.40" y2="590.60" stroke="#000" stroke-width="1.8" />
<line x1="41.80" y1="590.60" x2="41.80" y2="593.40" stroke="#000" stroke-width="1.1" />
<line x1="103.10" y1="590.60" x2="103.10" y2="593.40" stroke="#000" stroke-width="1.1" />
<line x1="164.40" y1="590.60" x2="164.40" y2="593.40" stroke="#000" stroke-width="1.1" />
<rect x="55.50" y="568.75" width="17.00" height="21.85" fill="#000" />
<line x1="64.00" y1="567.65" x2="64.00" y2="569.84" stroke="#000" stroke-width="1.05" />
<line x1="62.80" y1="567.65" x2="65.20" y2="567.65" stroke="#000" stroke-width="1.05" />
<line x1="62.80" y1="569.84" x2="65.20" y2="569.84" stroke="#000" stroke-width="1.05" />
<rect x="72.50" y="578.04" width="18.00" height="12.56" fill="#bababa" />
<line x1="81.50" y1="576.31" x2="81.50" y2="579.77" stroke="#000" stroke-width="1.05" />
<line x1="80.30" y1="576.31" x2="82.70" y2="576.31" stroke="#000" stroke-width="1.05" />
<line x1="80.30" y1="579.77" x2="82.70" y2="579.77" stroke="#000" stroke-width="1.05" />
<rect x="116.90" y="474.42" width="17.10" height="116.18" fill="#000" />
<line x1="125.45" y1="471.28" x2="125.45" y2="477.56" stroke="#000" stroke-width="1.05" />
<line x1="124.25" y1="471.28" x2="126.65" y2="471.28" stroke="#000" stroke-width="1.05" />
<line x1="124.25" y1="477.56" x2="126.65" y2="477.56" stroke="#000" stroke-width="1.05" />
<rect x="134.00" y="523.88" width="17.90" height="66.73" fill="#bababa" />
<line x1="142.95" y1="519.01" x2="142.95" y2="528.74" stroke="#000" stroke-width="1.05" />
<line x1="141.75" y1="519.01" x2="144.15" y2="519.01" stroke="#000" stroke-width="1.05" />
<line x1="141.75" y1="528.74" x2="144.15" y2="528.74" stroke="#000" stroke-width="1.05" />
<text x="62.80" y="607.30" font-size="10.1" text-anchor="start" fill="#222" stroke="#222" stroke-width="0.3" >24hr</text>
<text x="123.60" y="607.30" font-size="10.1" text-anchor="start" fill="#222" stroke="#222" stroke-width="0.3" >48hr</text>
<text x="69.60" y="433.30" font-size="10.15" text-anchor="start" fill="#222" stroke="#222" stroke-width="0.3" >NBT assay</text>
<rect x="167.60" y="503.20" width="5.70" height="5.50" fill="#000" />
<text x="176.00" y="508.80" font-size="10.2" text-anchor="start" fill="#222" stroke="#222" stroke-width="0.3" >shScram</text>
<rect x="167.60" y="545.10" width="5.30" height="5.30" fill="#bababa" />
<text x="176.00" y="551.00" font-size="10.2" text-anchor="start" fill="#222" stroke="#222" stroke-width="0.3" >shASB2</text>
<text x="0.00" y="0.00" font-size="10.35" text-anchor="middle" fill="#222" stroke="#222" stroke-width="0.3" transform="translate(17.6,519.6) rotate(-90)">Percentage of positive cells</text>
<line x1="280.00" y1="579.92" x2="441.60" y2="579.92" stroke="#9c9c9c" stroke-width="1.1" />
<line x1="280.00" y1="565.24" x2="441.60" y2="565.24" stroke="#9c9c9c" stroke-width="1.1" />
<line x1="280.00" y1="550.56" x2="441.60" y2="550.56" stroke="#9c9c9c" stroke-width="1.1" />
<line x1="280.00" y1="535.88" x2="441.60" y2="535.88" stroke="#9c9c9c" stroke-width="1.1" />
<line x1="280.00" y1="521.20" x2="441.60" y2="521.20" stroke="#9c9c9c" stroke-width="1.1" />
<line x1="280.00" y1="506.52" x2="441.60" y2="506.52" stroke="#9c9c9c" stroke-width="1.1" />
<line x1="280.00" y1="491.84" x2="441.60" y2="491.84" stroke="#9c9c9c" stroke-width="1.1" />
<line x1="280.00" y1="477.16" x2="441.60" y2="477.16" stroke="#9c9c9c" stroke-width="1.1" />
<line x1="280.00" y1="462.48" x2="441.60" y2="462.48" stroke="#9c9c9c" stroke-width="1.1" />
<line x1="280.00" y1="447.80" x2="441.60" y2="447.80" stroke="#9c9c9c" stroke-width="1.1" />
<text x="271.40" y="596.80" font-size="9.9" text-anchor="middle" fill="#222" stroke="#222" stroke-width="0.3" >0</text>
<line x1="277.40" y1="594.60" x2="280.00" y2="594.60" stroke="#999" stroke-width="1" />
<text x="275.60" y="582.12" font-size="9.9" text-anchor="end" fill="#222" stroke="#222" stroke-width="0.3" >20</text>
<line x1="277.40" y1="579.92" x2="280.00" y2="579.92" stroke="#999" stroke-width="1" />
<text x="275.60" y="567.44" font-size="9.9" text-anchor="end" fill="#222" stroke="#222" stroke-width="0.3" >40</text>
<line x1="277.40" y1="565.24" x2="280.00" y2="565.24" stroke="#999" stroke-width="1" />
<text x="275.60" y="552.76" font-size="9.9" text-anchor="end" fill="#222" stroke="#222" stroke-width="0.3" >60</text>
<line x1="277.40" y1="550.56" x2="280.00" y2="550.56" stroke="#999" stroke-width="1" />
<text x="275.60" y="538.08" font-size="9.9" text-anchor="end" fill="#222" stroke="#222" stroke-width="0.3" >80</text>
<line x1="277.40" y1="535.88" x2="280.00" y2="535.88" stroke="#999" stroke-width="1" />
<text x="276.80" y="523.40" font-size="9.9" text-anchor="end" fill="#222" stroke="#222" stroke-width="0.3" >100</text>
<line x1="277.40" y1="521.20" x2="280.00" y2="521.20" stroke="#999" stroke-width="1" />
<text x="276.80" y="508.72" font-size="9.9" text-anchor="end" fill="#222" stroke="#222" stroke-width="0.3" >120</text>
<line x1="277.40" y1="506.52" x2="280.00" y2="506.52" stroke="#999" stroke-width="1" />
<text x="276.80" y="494.04" font-size="9.9" text-anchor="end" fill="#222" stroke="#222" stroke-width="0.3" >140</text>
<line x1="277.40" y1="491.84" x2="280.00" y2="491.84" stroke="#999" stroke-width="1" />
<text x="276.80" y="479.36" font-size="9.9" text-anchor="end" fill="#222" stroke="#222" stroke-width="0.3" >160</text>
<line x1="277.40" y1="477.16" x2="280.00" y2="477.16" stroke="#999" stroke-width="1" />
<text x="276.80" y="464.68" font-size="9.9" text-anchor="end" fill="#222" stroke="#222" stroke-width="0.3" >180</text>
<line x1="277.40" y1="462.48" x2="280.00" y2="462.48" stroke="#999" stroke-width="1" />
<text x="276.80" y="450.00" font-size="9.9" text-anchor="end" fill="#222" stroke="#222" stroke-width="0.3" >200</text>
<line x1="277.40" y1="447.80" x2="280.00" y2="447.80" stroke="#999" stroke-width="1" />
<line x1="280.00" y1="447.30" x2="280.00" y2="594.60" stroke="#aaa" stroke-width="1.4" />
<line x1="277.40" y1="594.60" x2="441.60" y2="594.60" stroke="#999" stroke-width="1.3" />
<line x1="280.00" y1="594.60" x2="280.00" y2="596.90" stroke="#999" stroke-width="1" />
<text x="280.00" y="607.50" font-size="10" text-anchor="middle" fill="#222" stroke="#222" stroke-width="0.3" >0</text>
<line x1="312.32" y1="594.60" x2="312.32" y2="596.90" stroke="#999" stroke-width="1" />
<text x="312.32" y="607.50" font-size="10" text-anchor="middle" fill="#222" stroke="#222" stroke-width="0.3" >1</text>
<line x1="344.64" y1="594.60" x2="344.64" y2="596.90" stroke="#999" stroke-width="1" />
<text x="344.64" y="607.50" font-size="10" text-anchor="middle" fill="#222" stroke="#222" stroke-width="0.3" >2</text>
<line x1="376.96" y1="594.60" x2="376.96" y2="596.90" stroke="#999" stroke-width="1" />
<text x="376.96" y="607.50" font-size="10" text-anchor="middle" fill="#222" stroke="#222" stroke-width="0.3" >3</text>
<line x1="409.28" y1="594.60" x2="409.28" y2="596.90" stroke="#999" stroke-width="1" />
<text x="409.28" y="607.50" font-size="10" text-anchor="middle" fill="#222" stroke="#222" stroke-width="0.3" >4</text>
<line x1="441.60" y1="594.60" x2="441.60" y2="596.90" stroke="#999" stroke-width="1" />
<text x="441.60" y="607.50" font-size="10" text-anchor="middle" fill="#222" stroke="#222" stroke-width="0.3" >5</text>
<text x="446.20" y="607.30" font-size="9.9" text-anchor="start" fill="#222" stroke="#222" stroke-width="0.3" >Day</text>
<polyline points="280.0,572.6 312.3,570.4 344.6,559.4 377.0,524.9 409.3,506.9" fill="none" stroke="#8aac40" stroke-width="2.6" stroke-linejoin="round"/>
<line x1="344.64" y1="554.23" x2="344.64" y2="564.51" stroke="#222" stroke-width="0.9" />
<line x1="343.14" y1="554.23" x2="346.14" y2="554.23" stroke="#222" stroke-width="0.9" />
<line x1="343.14" y1="564.51" x2="346.14" y2="564.51" stroke="#222" stroke-width="0.9" />
<line x1="376.96" y1="520.83" x2="376.96" y2="528.91" stroke="#222" stroke-width="0.9" />
<line x1="375.46" y1="520.83" x2="378.46" y2="520.83" stroke="#222" stroke-width="0.9" />
<line x1="375.46" y1="528.91" x2="378.46" y2="528.91" stroke="#222" stroke-width="0.9" />
<line x1="409.28" y1="502.70" x2="409.28" y2="511.07" stroke="#222" stroke-width="0.9" />
<line x1="407.78" y1="502.70" x2="410.78" y2="502.70" stroke="#222" stroke-width="0.9" />
<line x1="407.78" y1="511.07" x2="410.78" y2="511.07" stroke="#222" stroke-width="0.9" />
<path d="M276.6,572.58 L280.0,569.38 L283.4,572.58 L280.0,575.7800000000001 Z" fill="#8aac40"/>
<path d="M308.92,570.378 L312.32,567.178 L315.71999999999997,570.378 L312.32,573.5780000000001 Z" fill="#8aac40"/>
<path d="M341.24,559.368 L344.64,556.168 L348.03999999999996,559.368 L344.64,562.5680000000001 Z" fill="#8aac40"/>
<path d="M373.56000000000006,524.87 L376.96000000000004,521.67 L380.36,524.87 L376.96000000000004,528.07 Z" fill="#8aac40"/>
<path d="M405.88000000000005,506.887 L409.28000000000003,503.687 L412.68,506.887 L409.28000000000003,510.087 Z" fill="#8aac40"/>
<polyline points="280.0,572.6 312.3,567.4 344.6,548.1 377.0,512.8 409.3,465.1" fill="none" stroke="#f0952e" stroke-width="2.6" stroke-linejoin="round"/>
<line x1="376.96" y1="507.62" x2="376.96" y2="517.90" stroke="#222" stroke-width="0.9" />
<line x1="375.46" y1="507.62" x2="378.46" y2="507.62" stroke="#222" stroke-width="0.9" />
<line x1="375.46" y1="517.90" x2="378.46" y2="517.90" stroke="#222" stroke-width="0.9" />
<line x1="409.28" y1="455.58" x2="409.28" y2="474.66" stroke="#222" stroke-width="0.9" />
<line x1="407.78" y1="455.58" x2="410.78" y2="455.58" stroke="#222" stroke-width="0.9" />
<line x1="407.78" y1="474.66" x2="410.78" y2="474.66" stroke="#222" stroke-width="0.9" />
<rect x="276.80" y="569.38" width="6.40" height="6.40" fill="#f0952e" />
<rect x="309.12" y="564.24" width="6.40" height="6.40" fill="#f0952e" />
<rect x="341.44" y="544.94" width="6.40" height="6.40" fill="#f0952e" />
<rect x="373.76" y="509.56" width="6.40" height="6.40" fill="#f0952e" />
<rect x="406.08" y="461.92" width="6.40" height="6.40" fill="#f0952e" />
<polyline points="280.0,572.6 312.3,576.6 344.6,576.5 377.0,569.1 409.3,572.6" fill="none" stroke="#4a70b8" stroke-width="2.6" stroke-linejoin="round"/>
<line x1="376.96" y1="566.12" x2="376.96" y2="571.99" stroke="#222" stroke-width="0.9" />
<line x1="375.46" y1="566.12" x2="378.46" y2="566.12" stroke="#222" stroke-width="0.9" />
<line x1="375.46" y1="571.99" x2="378.46" y2="571.99" stroke="#222" stroke-width="0.9" />
<line x1="409.28" y1="568.54" x2="409.28" y2="576.62" stroke="#222" stroke-width="0.9" />
<line x1="407.78" y1="568.54" x2="410.78" y2="568.54" stroke="#222" stroke-width="0.9" />
<line x1="407.78" y1="576.62" x2="410.78" y2="576.62" stroke="#222" stroke-width="0.9" />
<path d="M276.4,575.58 L280.0,569.1800000000001 L283.6,575.58 Z" fill="#4a70b8"/>
<path d="M308.71999999999997,579.617 L312.32,573.217 L315.92,579.617 Z" fill="#4a70b8"/>
<path d="M341.03999999999996,579.4702 L344.64,573.0702 L348.24,579.4702 Z" fill="#4a70b8"/>
<path d="M373.36,572.0568000000001 L376.96000000000004,565.6568000000001 L380.56000000000006,572.0568000000001 Z" fill="#4a70b8"/>
<path d="M405.68,575.58 L409.28000000000003,569.1800000000001 L412.88000000000005,575.58 Z" fill="#4a70b8"/>
<polyline points="280.0,572.6 312.3,571.1 344.6,569.1 377.0,557.6 409.3,528.2" fill="none" stroke="#bc1c2c" stroke-width="2.6" stroke-linejoin="round"/>
<line x1="376.96" y1="553.94" x2="376.96" y2="561.28" stroke="#222" stroke-width="0.9" />
<line x1="375.46" y1="553.94" x2="378.46" y2="553.94" stroke="#222" stroke-width="0.9" />
<line x1="375.46" y1="561.28" x2="378.46" y2="561.28" stroke="#222" stroke-width="0.9" />
<line x1="409.28" y1="523.03" x2="409.28" y2="533.31" stroke="#222" stroke-width="0.9" />
<line x1="407.78" y1="523.03" x2="410.78" y2="523.03" stroke="#222" stroke-width="0.9" />
<line x1="407.78" y1="533.31" x2="410.78" y2="533.31" stroke="#222" stroke-width="0.9" />
<rect x="276.80" y="569.38" width="6.40" height="6.40" fill="#bc1c2c" />
<rect x="309.12" y="567.91" width="6.40" height="6.40" fill="#bc1c2c" />
<rect x="341.44" y="565.86" width="6.40" height="6.40" fill="#bc1c2c" />
<rect x="373.76" y="554.41" width="6.40" height="6.40" fill="#bc1c2c" />
<rect x="406.08" y="524.97" width="6.40" height="6.40" fill="#bc1c2c" />
<line x1="424.40" y1="500.30" x2="442.00" y2="500.30" stroke="#8aac40" stroke-width="2.5" />
<path d="M430.31,500.3 L433.2,497.58 L436.09,500.3 L433.2,503.02000000000004 Z" fill="#8aac40"/>
<text x="442.50" y="503.90" font-size="10.6" text-anchor="start" fill="#222" stroke="#222" stroke-width="0.3" >shScram</text>
<line x1="424.40" y1="515.15" x2="442.00" y2="515.15" stroke="#f0952e" stroke-width="2.5" />
<rect x="430.48" y="512.43" width="5.44" height="5.44" fill="#f0952e" />
<text x="442.50" y="518.75" font-size="10.6" text-anchor="start" fill="#222" stroke="#222" stroke-width="0.3" >shASB2</text>
<line x1="424.40" y1="530.00" x2="442.00" y2="530.00" stroke="#4a70b8" stroke-width="2.5" />
<path d="M430.14,532.55 L433.2,527.11 L436.26,532.55 Z" fill="#4a70b8"/>
<text x="442.50" y="533.60" font-size="10.6" text-anchor="start" fill="#222" stroke="#222" stroke-width="0.3" >shScram+ATRA</text>
<line x1="424.40" y1="544.85" x2="442.00" y2="544.85" stroke="#bc1c2c" stroke-width="2.5" />
<rect x="430.48" y="542.13" width="5.44" height="5.44" fill="#bc1c2c" />
<text x="442.50" y="548.45" font-size="10.6" text-anchor="start" fill="#222" stroke="#222" stroke-width="0.3" >shASB2+ATRA</text>
<text x="0.00" y="0.00" font-size="10.8" text-anchor="middle" fill="#222" stroke="#222" stroke-width="0.3" transform="translate(256.8,506.3) rotate(-90)">Cell count (X10,000)</text>
</svg></body></html>
